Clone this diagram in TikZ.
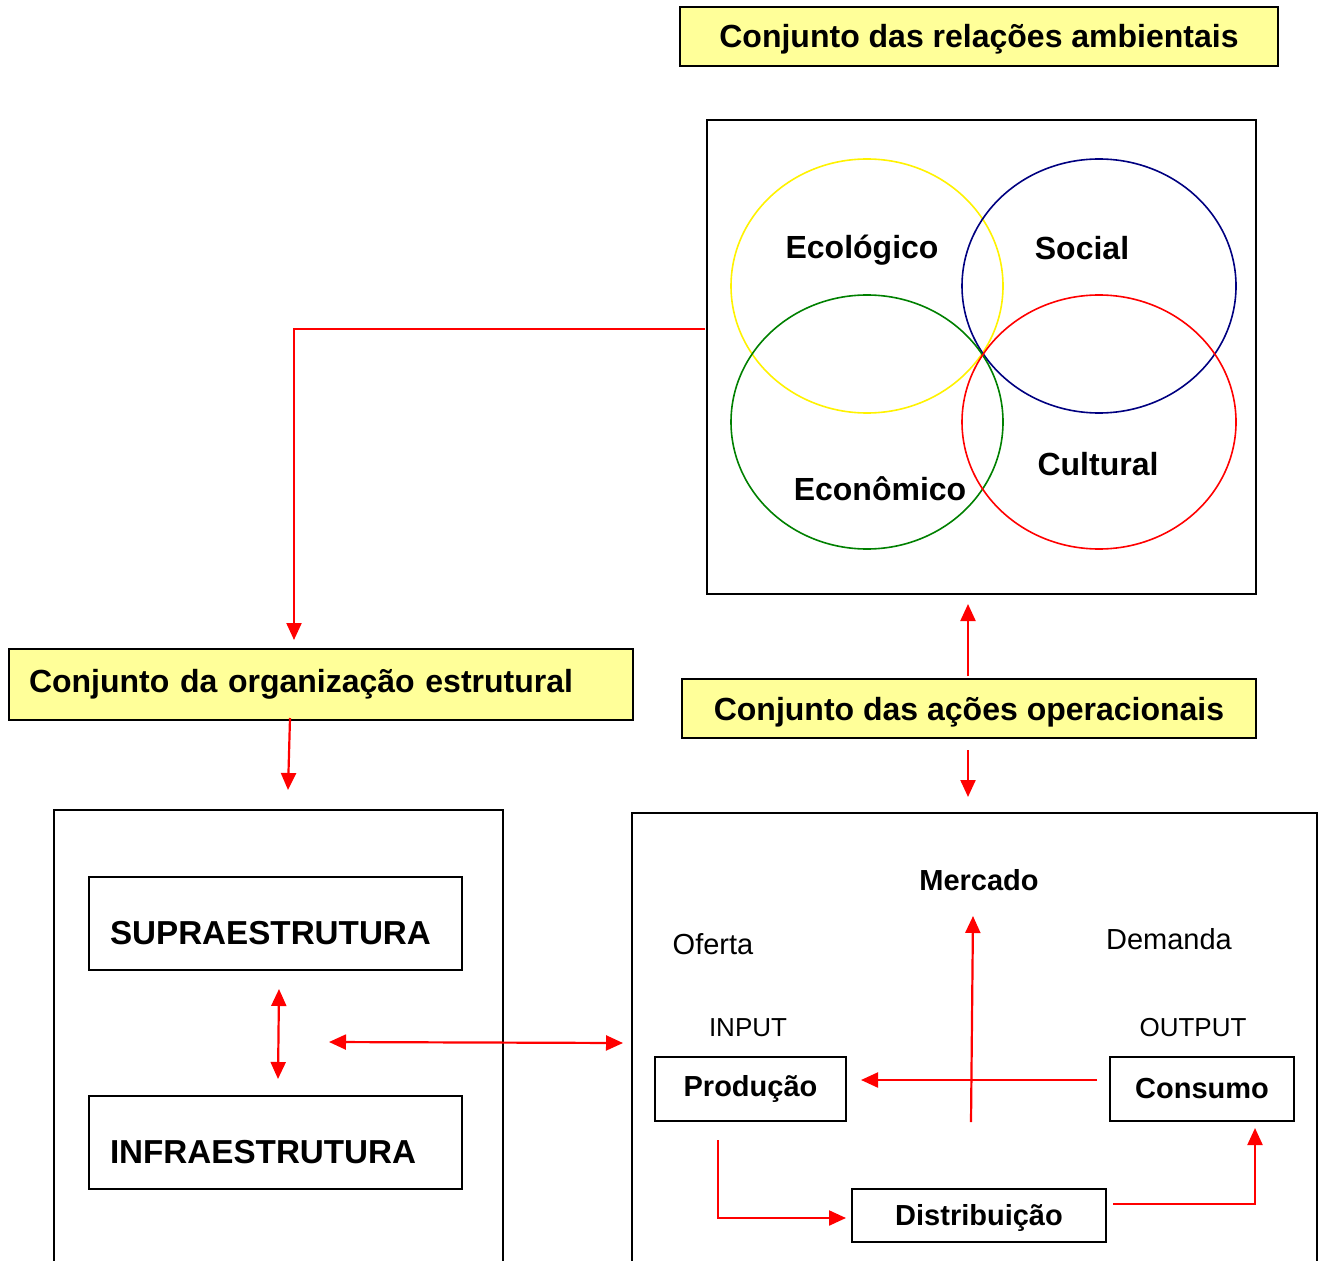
\documentclass[tikz,border=0pt]{standalone}
\usepackage{fontspec}
\setmainfont{Liberation Sans}
\usetikzlibrary{arrows.meta,positioning}
\definecolor{paleyellow}{RGB}{255,255,153}
\definecolor{navyline}{RGB}{0,0,128}
\definecolor{greenline}{RGB}{0,128,0}

\begin{document}
\begin{tikzpicture}[x=0.5pt,y=-0.5pt,
    header/.style={draw=black,line width=1pt,fill=paleyellow,inner sep=0pt,
      font=\fontsize{16}{19}\selectfont\bfseries},
    framebox/.style={draw=black,line width=1pt,inner sep=0pt},
    levelbox/.style={draw=black,line width=1pt,inner ysep=0pt,inner xsep=10.5pt,
      minimum height=46.5pt,text width=165.5pt,align=left,
      text height=20.5pt,text depth=0pt,
      font=\fontsize{16.6}{19}\selectfont\bfseries},
    stagebox/.style={draw=black,line width=1pt,inner sep=0pt,
      font=\fontsize{14.5}{17}\selectfont\bfseries},
    setlabel/.style={font=\fontsize{16}{19}\selectfont\bfseries},
    marklabel/.style={font=\fontsize{14.5}{17}\selectfont},
    iolabel/.style={font=\fontsize{13}{15}\selectfont},
    link/.style={red,line width=1.1pt,-{Triangle[length=8.5pt,width=7.5pt]}},
    twolink/.style={red,line width=1.1pt,
      {Triangle[length=8.5pt,width=7.5pt]}-{Triangle[length=8.5pt,width=7.5pt]}}]
  \useasboundingbox (0,0) rectangle (1320,1261);
  \clip (0,0) rectangle (1320,1261);

  % --- relacoes ambientais ---
  \node[header,minimum width=299pt,minimum height=29.5pt,text height=11.5pt,text depth=0pt]
    (amb) at (979,36.5) {Conjunto das rela\c c\~oes ambientais};
  \node[framebox,minimum width=274.5pt,minimum height=237pt] (env) at (981.5,357) {};
  \draw[yellow,line width=0.8pt] (867,286) ellipse [x radius=136,y radius=127];
  \draw[navyline,line width=0.8pt] (1099,286) ellipse [x radius=137,y radius=127];
  \draw[greenline,line width=0.8pt] (867,422) ellipse [x radius=136,y radius=127];
  \draw[red,line width=0.8pt] (1099,422) ellipse [x radius=137,y radius=127];
  \node[setlabel] (eco) at (862,250) {Ecol\'ogico};
  \node[setlabel] (soc) at (1082,248) {Social};
  \node[setlabel] (econ) at (880,489) {Econ\^omico};
  \node[setlabel] (cult) at (1098,464) {Cultural};

  % --- organizacao estrutural ---
  \node[header,anchor=west,minimum height=35.5pt,text width=292pt,align=left,
    inner xsep=10pt] (org) at (8,684.5) {Conjunto da organiza\c c\~ao estrutural};
  \node[framebox,minimum width=224.5pt,minimum height=245pt] (left) at (278.5,1055) {};
  \node[levelbox] (supra) at (275.5,923.5) {SUPRAESTRUTURA};
  \node[levelbox] (infra) at (275.5,1142.5) {INFRAESTRUTURA};

  % --- acoes operacionais ---
  \node[header,minimum width=287pt,minimum height=29.5pt,text height=11.5pt,text depth=0pt]
    (ops) at (969,708.5) {Conjunto das a\c c\~oes operacionais};
  \node[framebox,minimum width=342.5pt,minimum height=243.5pt] (right) at (974.5,1056.5) {};
  \node[setlabel,font=\fontsize{14.5}{17}\selectfont\bfseries] (merc) at (979,880) {Mercado};
  \node[marklabel] (oferta) at (713,944) {Oferta};
  \node[marklabel] (demanda) at (1169,939) {Demanda};
  \node[iolabel] (input) at (748,1028) {INPUT};
  \node[iolabel] (output) at (1193,1028) {OUTPUT};
  \node[stagebox,minimum width=95.5pt,minimum height=32pt] (prod) at (750.5,1089) {Produ\c c\~ao};
  \node[stagebox,minimum width=92pt,minimum height=32pt] (cons) at (1202,1089) {Consumo};
  \node[stagebox,minimum width=127pt,minimum height=26.5pt,text height=10.4pt,text depth=0pt]
    (dist) at (979,1215.5) {Distribui\c c\~ao};

  % free ends of the connectors
  \coordinate (envout) at (705,329);
  \coordinate (orgin) at (294,640);
  \coordinate (orgout) at (290,718);
  \coordinate (leftin) at (288,790);
  \coordinate (supraout) at (279,989);
  \coordinate (infraout) at (278,1079);
  \coordinate (leftout) at (329,1042);
  \coordinate (rightin) at (623,1043);
  \coordinate (opsup) at (968,676);
  \coordinate (envin) at (968,604);
  \coordinate (opsdown) at (968,750);
  \coordinate (rightdown) at (968,797);
  \coordinate (consout) at (1097,1080);
  \coordinate (prodin) at (861,1080);
  \coordinate (crossfoot) at (971,1122);
  \coordinate (mercin) at (973,916);
  \coordinate (prodout) at (718,1140);
  \coordinate (distin) at (846,1218);
  \coordinate (distout) at (1113,1204);
  \coordinate (consin) at (1255,1128);

  % --- connectors ---
  \draw[link] (envout) -| (orgin);
  \draw[link] (orgout) -- (leftin);
  \draw[twolink] (supraout) -- (infraout);
  \draw[twolink] (leftout) -- (rightin);
  \draw[link] (opsup) -- (envin);
  \draw[link] (opsdown) -- (rightdown);
  \draw[link] (consout) -- (prodin);
  \draw[link] (crossfoot) -- (mercin);
  \draw[link] (prodout) |- (distin);
  \draw[link] (distout) -| (consin);
\end{tikzpicture}
\end{document}
